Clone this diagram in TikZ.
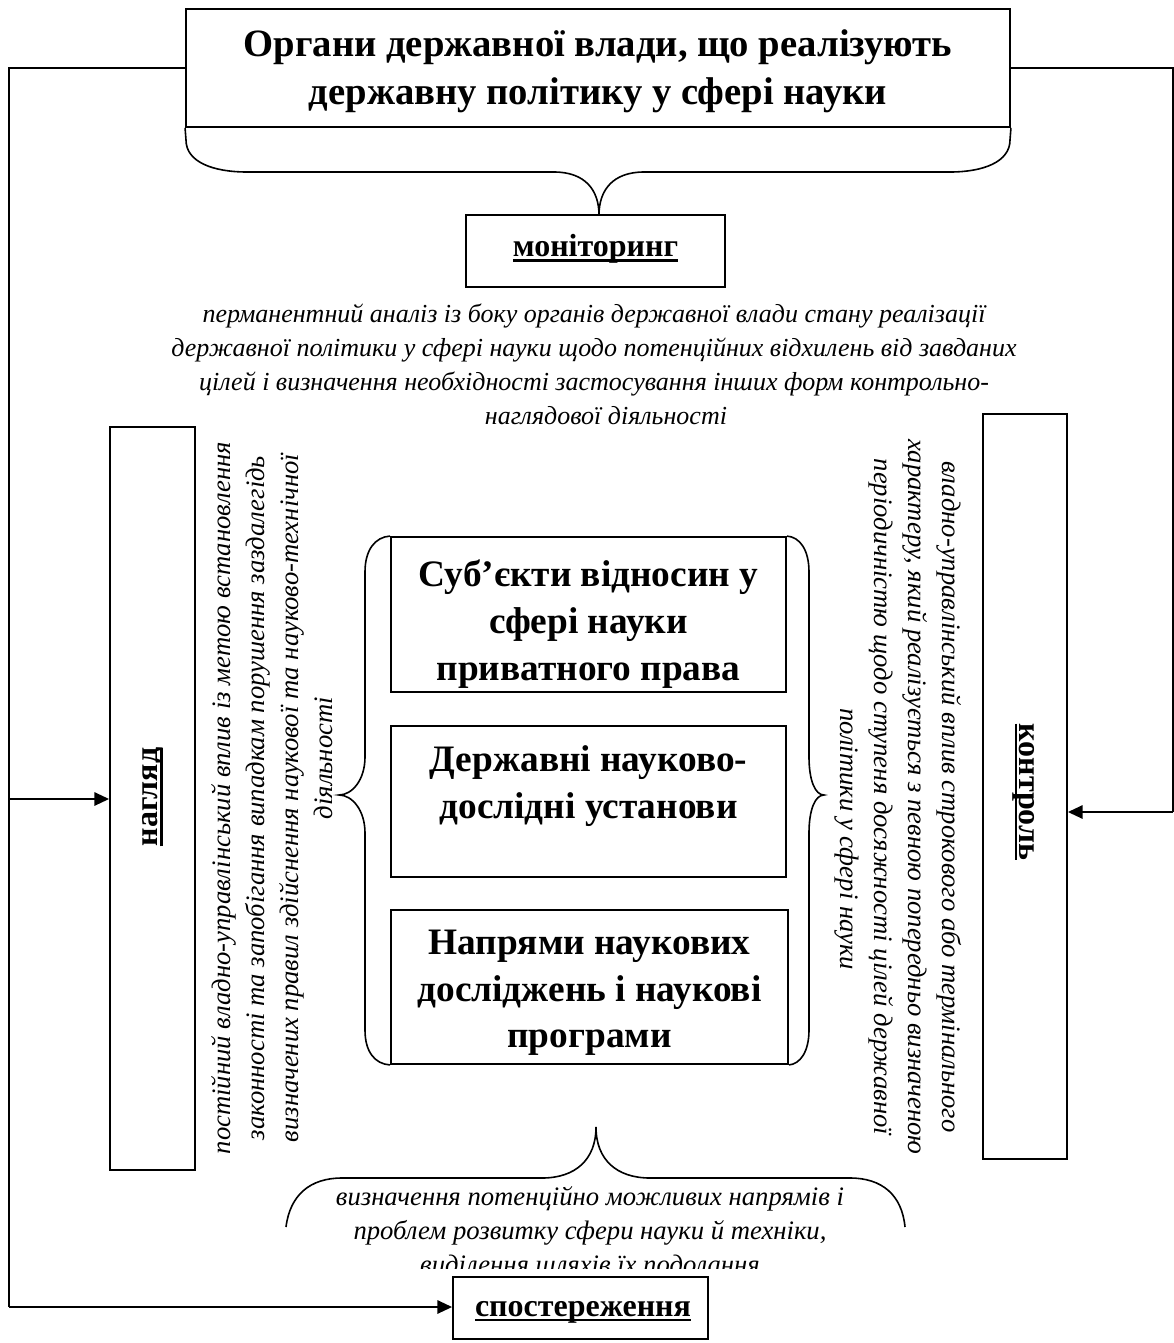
\documentclass[tikz,border=0pt]{standalone}
\usepackage{fontspec}
\setmainfont{Liberation Serif}
\usetikzlibrary{arrows.meta}

% bold text with a heavy underline
\newcommand\heavyul[1]{\setbox0\hbox{#1}\leavevmode\rlap{\rule[-4pt]{\wd0}{2.2pt}}\box0}

\begin{document}
\begin{tikzpicture}[x=0.75pt,y=-0.75pt,
  frame/.style={draw,line width=1.4pt,inner sep=0pt},
  link/.style={line width=1.4pt},
  arr/.style={link,-{Triangle[length=11pt,width=10pt]}},
  brace/.style={line width=1.2pt},
  title/.style={font=\fontsize{29pt}{36pt}\selectfont\bfseries,align=center,inner sep=0pt},
  label/.style={font=\fontsize{24pt}{28pt}\selectfont\bfseries},
  core/.style={font=\fontsize{28pt}{35pt}\selectfont\bfseries,align=center,inner sep=0pt},
  note/.style={font=\fontsize{19.5pt}{25.5pt}\selectfont\itshape,align=center,inner sep=0pt},
  side/.style={font=\fontsize{20pt}{25.5pt}\selectfont\itshape,align=center,inner sep=0pt}]
\useasboundingbox (0,0) rectangle (1174,1343);

% top: bodies of state power
\node[frame,minimum width=618pt,minimum height=88.5pt] (top) at (598,68) {};
\node[title] (toptext) at (598,71)
  {Органи державної влади, що реалізують\\державну політику у сфері науки};
\draw[brace] (top.south west) -- (186,140) .. controls (186,162) and (213,172) .. (247,172)
  -- (554,172) .. controls (585,172) and (599,190) .. (599,215)
  .. controls (599,190) and (613,172) .. (644,172) -- (950,172)
  .. controls (983,172) and (1010,162) .. (1010,140) -- (top.south east);

% monitoring
\node[frame,minimum width=194.25pt,minimum height=54pt] (mon) at (595.5,251) {};
\node[label] (monlab) at (595.5,249) {\heavyul{моніторинг}};
\node[note] (monnote) at (594,364)
  {перманентний аналіз із боку органів державної влади стану реалізації\\
   державної політики у сфері науки щодо потенційних відхилень від завданих\\
   цілей і визначення необхідності застосування інших форм контрольно-\\
   \hspace*{18pt}наглядової діяльності};

% supervision (left)
\node[frame,minimum width=63.75pt,minimum height=557.25pt] (nagl) at (152.5,798.5) {};
\node[label,rotate=90] (nagllab) at (153,797) {\heavyul{нагляд}};
\node[side,rotate=90] (naglnote) at (272,798)
  {постійний владно-управлінський вплив із метою встановлення\\
   законності та запобігання випадкам порушення заздалегідь\\
   визначених правил здійснення наукової та науково-технічної\\
   \hspace*{60pt}діяльності};

% control (right)
\node[frame,minimum width=63pt,minimum height=558.75pt] (kontr) at (1025,786.5) {};
\node[label,rotate=-90] (kontrlab) at (1024,792) {\heavyul{контроль}};
\node[side,rotate=-90] (kontrnote) at (898,797)
  {владно-управлінський вплив строкового або термінального\\
   характеру, який реалізується з певною попередньо визначеною\\
   періодичністю щодо ступеня досяжності цілей державної\\
   \hspace*{63pt}політики у сфері науки};

% objects of state policy
\node[frame,minimum width=296.25pt,minimum height=116.25pt] (b1) at (588.5,614.5) {};
\node[core] (b1t) at (588.5,624) {Суб’єкти відносин у\\сфері науки\\приватного права};
\node[frame,minimum width=296.25pt,minimum height=113.25pt] (b2) at (588.5,801.5) {};
\node[core] (b2t) at (588.5,786) {Державні науково-\\дослідні установи};
\node[frame,minimum width=297.75pt,minimum height=115.5pt] (b3) at (589.5,987) {};
\node[core] (b3t) at (589.5,993) {Напрями наукових\\досліджень і наукові\\програми};

\draw[brace] (b1.north west) .. controls (375,537) and (365,550) .. (365,572) -- (365,757)
  .. controls (365,780) and (352,795) .. (339,795)
  .. controls (352,795) and (365,810) .. (365,833) -- (365,1030)
  .. controls (365,1052) and (375,1064) .. (b3.south west);
\draw[brace] (b1.north east) .. controls (800,537) and (809,550) .. (809,572) -- (809,757)
  .. controls (809,780) and (815,795) .. (824,795)
  .. controls (815,795) and (809,810) .. (809,833) -- (809,1030)
  .. controls (809,1052) and (800,1064) .. (b3.south east);

% observation
\draw[brace] (286,1227) .. controls (290,1195) and (310,1178) .. (342,1178) -- (542,1178)
  .. controls (575,1178) and (596,1160) .. (596,1127)
  .. controls (596,1160) and (617,1178) .. (650,1178) -- (850,1178)
  .. controls (882,1178) and (902,1195) .. (905,1227);
\begin{scope}
  \clip (250,1150) rectangle (950,1268);
  \node[side] (obsnote) at (590,1230)
    {визначення потенційно можливих напрямів і\\
     проблем розвитку сфери науки й техніки,\\
     виділення шляхів їх подолання};
\end{scope}
\node[frame,minimum width=191.25pt,minimum height=46.5pt] (spost) at (580.5,1308) {};
\node[label] (spostlab) at (583,1312) {\heavyul{спостереження}};

% connectors
\coordinate (lcol) at (9,1307);
\coordinate (rcol) at (1173,812);
\draw[link] (top.west) -| (lcol);
\draw[arr] (lcol) -- (lcol -| spost.west);
\draw[arr] (9,799) -- (9,799 -| nagl.west);
\draw[link] (top.east) -| (rcol);
\draw[arr] (rcol) -- (rcol -| kontr.east);
\end{tikzpicture}
\end{document}
